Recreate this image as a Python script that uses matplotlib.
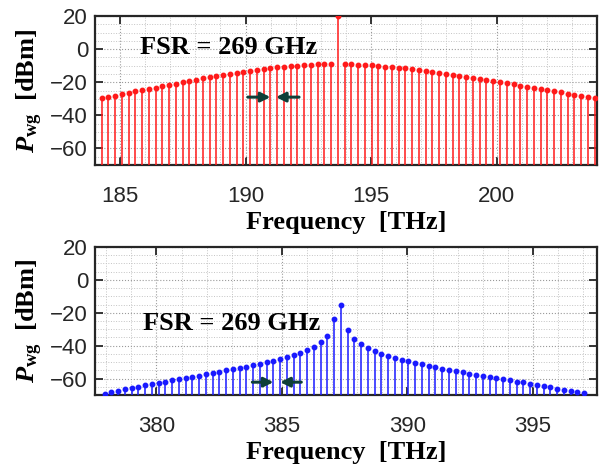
import numpy as np
import matplotlib
matplotlib.use("Agg")
import matplotlib.pyplot as plt
from matplotlib.ticker import MultipleLocator

plt.rcParams['mathtext.fontset'] = 'custom'
plt.rcParams['mathtext.rm'] = 'Liberation Serif:bold'
plt.rcParams['mathtext.it'] = 'Liberation Serif:italic:bold'
plt.rcParams['mathtext.bf'] = 'Liberation Serif:bold'

# comb parameters (THz)
fsr = 0.269
pump_1 = 193.68
pump_2 = 387.35
n_1 = np.arange(-35, 39)
n_2 = np.arange(-35, 37)

# power of each comb line [dBm]
p_top_left = [-29.5, -28.7, -28.1, -27.3, -26.3, -25.5, -24.8, -24.0, -23.2, -22.4,
              -21.6, -20.8, -20.0, -19.2, -18.4, -17.6, -17.0, -16.4, -15.8, -15.2,
              -14.5, -13.9, -13.3, -12.7, -12.1, -11.5, -11.1, -10.7, -10.3, -9.9,
              -9.5, -9.3, -9.1, -9.0, -9.0]
p_top_pump = [20.0]
p_top_right = [-9.1, -9.1, -9.3, -9.5, -9.7, -10.1, -10.5, -10.9, -11.3, -11.7,
               -12.3, -12.7, -13.3, -13.9, -14.5, -14.9, -15.6, -16.2, -16.8, -17.4,
               -18.0, -18.6, -19.2, -20.0, -20.6, -21.2, -22.0, -22.8, -23.6, -24.0,
               -24.8, -25.5, -26.1, -26.9, -27.5, -28.3, -28.9, -29.7]

p_bot_left = [-69.2, -68.2, -67.4, -66.6, -65.8, -65.0, -64.2, -63.4, -62.6, -61.8,
              -61.0, -60.2, -59.6, -59.0, -58.2, -57.4, -56.6, -55.8, -55.0, -54.2,
              -53.6, -52.8, -52.0, -51.0, -50.2, -49.2, -48.2, -47.0, -45.8, -44.4,
              -42.8, -40.8, -38.0, -34.0, -24.0]
p_bot_pump = [-15.0]
p_bot_right = [-30.4, -35.8, -39.0, -41.4, -43.4, -44.8, -46.2, -47.4, -48.6, -49.6,
               -50.4, -51.4, -52.2, -53.2, -54.0, -54.6, -55.4, -56.2, -57.0, -57.6,
               -58.4, -59.0, -59.6, -60.4, -61.0, -61.8, -62.4, -63.2, -64.0, -64.8,
               -65.4, -66.2, -67.0, -67.8, -68.4, -69.0]

f_top = pump_1 + fsr * n_1
f_bot = pump_2 + fsr * n_2
p_top = np.array(p_top_left + p_top_pump + p_top_right)
p_bot = np.array(p_bot_left + p_bot_pump + p_bot_right)

xticks_top = [185, 190, 195, 200]
xticks_bot = [380, 385, 390, 395]
yticks = [-60, -40, -20, 0, 20]

arrow_col = '#0e3f38'
serif = 'Liberation Serif'

fig = plt.figure(figsize=(6.08, 4.68), dpi=100)
ax1 = fig.add_axes([0.1562, 0.6474, 0.8257, 0.3184])
ax2 = fig.add_axes([0.1562, 0.156, 0.8257, 0.3162])


def draw_comb(ax, f, p, col, xlim, xticks):
    ax.vlines(f, -100, p, color=col, lw=1.1, zorder=3)
    ax.plot(f, p, 'o', color=col, ms=3.2, mec=col, zorder=4, clip_on=True)
    ax.set_xlim(*xlim)
    ax.set_ylim(-70, 20)
    ax.set_xticks(xticks)
    ax.set_yticks(yticks)
    ax.xaxis.set_minor_locator(MultipleLocator(1))
    ax.yaxis.set_minor_locator(MultipleLocator(5))
    ax.grid(which='major', ls=':', color='#9a9a9a', lw=0.8)
    ax.grid(which='minor', ls=':', color='#c4c4c4', lw=0.7)
    ax.set_axisbelow(True)
    ax.tick_params(which='major', direction='in', top=True, right=True,
                   length=6, width=1.3, labelsize=16, colors='#262626')
    ax.tick_params(which='minor', length=0)
    for lab in ax.get_xticklabels() + ax.get_yticklabels():
        lab.set_family('Liberation Sans')
    ax.tick_params(axis='x', pad=15)
    ax.tick_params(axis='y', pad=5)
    for s in ax.spines.values():
        s.set_linewidth(1.6)
        s.set_color('#262626')
    ax.set_xlabel('Frequency  [THz]', family=serif, fontweight='bold',
                  fontsize=19, labelpad=3)
    ax.set_ylabel(r'$P_{\mathbf{wg}}$  [dBm]', family=serif, fontweight='bold',
                  fontsize=19, labelpad=4)


draw_comb(ax1, f_top, p_top, '#ff1a1a', (184, 204), xticks_top)
draw_comb(ax2, f_bot, p_bot, '#1a1aff', (377.55, 397.55), xticks_bot)

ax1.text(185.8, -3, 'FSR = 269 GHz', family=serif, fontweight='bold',
         fontsize=19, va='baseline', zorder=5)
ax2.text(379.45, -30.6, 'FSR = 269 GHz', family=serif, fontweight='bold',
         fontsize=19, va='baseline', zorder=5)

arw = dict(arrowstyle='-|>', color=arrow_col, lw=2.2, mutation_scale=14,
           shrinkA=0, shrinkB=0)
ax1.annotate('', xy=(190.99, -29), xytext=(190.09, -29), arrowprops=arw, zorder=6)
ax1.annotate('', xy=(191.21, -29), xytext=(192.13, -29), arrowprops=arw, zorder=6)
ax2.annotate('', xy=(384.66, -62.2), xytext=(383.82, -62.2), arrowprops=arw, zorder=6)
ax2.annotate('', xy=(384.93, -62.2), xytext=(385.77, -62.2), arrowprops=arw, zorder=6)

fig.savefig('out.png', dpi=100)
